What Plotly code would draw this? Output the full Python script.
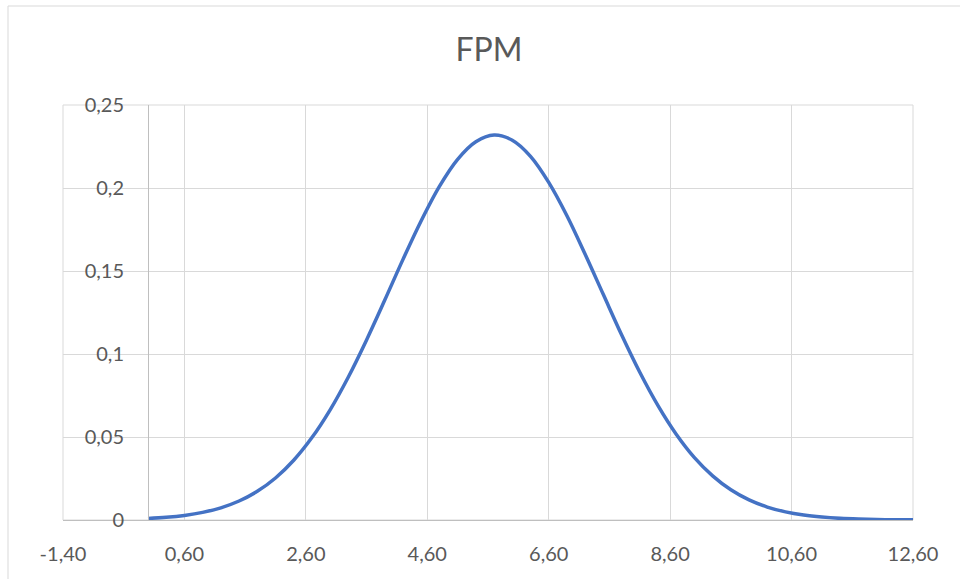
import plotly.graph_objects as go

# Data (normal-shaped density curve)
x_values = [0.0, 0.3, 0.6, 0.9, 1.2, 1.5, 1.8, 2.1, 2.4, 2.7, 3.0, 3.3, 3.6, 3.9,
            4.2, 4.5, 4.8, 5.1, 5.4, 5.7, 6.0, 6.3, 6.6, 6.9, 7.2, 7.5, 7.8, 8.1,
            8.4, 8.7, 9.0, 9.3, 9.6, 9.9, 10.2, 10.5, 10.8, 11.1, 11.4, 11.7,
            12.0, 12.3, 12.6]
y_values = [0.00092, 0.00162, 0.00276, 0.00457, 0.00734, 0.01143, 0.01728, 0.02532,
            0.0360, 0.04965, 0.0664, 0.08618, 0.1085, 0.1325, 0.1570, 0.1803,
            0.2010, 0.2173, 0.2279, 0.2319, 0.2288, 0.2191, 0.2034, 0.1833, 0.1601,
            0.1358, 0.1116, 0.0890, 0.0689, 0.0517, 0.0376, 0.0266, 0.0182, 0.0121,
            0.0078, 0.00488, 0.00296, 0.00174, 0.00099, 0.00055, 0.00030, 0.00015,
            0.00008]

x_tick_vals = [-1.4, 0.6, 2.6, 4.6, 6.6, 8.6, 10.6, 12.6]
x_tick_text = ["-1,40", "0,60", "2,60", "4,60", "6,60", "8,60", "10,60", "12,60"]
y_tick_vals = [0, 0.05, 0.1, 0.15, 0.2, 0.25]
y_tick_text = ["0", "0,05", "0,1", "0,15", "0,2", "0,25"]

title_text = "FPM"

FONT = "Lato"
TXT = "#595959"
GRID = "#d9d9d9"
AXIS = "#bfbfbf"

fig = go.Figure()
fig.add_trace(go.Scatter(
    x=x_values, y=y_values, mode="lines",
    line=dict(color="#4472C4", width=3.5, shape="spline", smoothing=1.0),
    hoverinfo="x+y", showlegend=False,
))

fig.update_layout(
    width=960, height=579,
    margin=dict(l=63, r=47, t=105, b=59),
    paper_bgcolor="white", plot_bgcolor="white",
    title=dict(text=title_text, x=489 / 960, xanchor="center",
               y=1 - 50 / 579, yanchor="middle",
               font=dict(family=FONT, size=32, color=TXT)),
    font=dict(family=FONT, color=TXT, size=20),
    xaxis=dict(range=[-1.4, 12.6], tickvals=x_tick_vals, ticktext=x_tick_text,
               showgrid=True, gridcolor=GRID, gridwidth=1,
               zeroline=False, showline=True, linecolor=AXIS, linewidth=1,
               ticks="", ticklabelstandoff=16,
               tickfont=dict(family=FONT, size=20, color=TXT)),
    yaxis=dict(range=[0, 0.25], tickvals=y_tick_vals, ticktext=y_tick_text,
               showgrid=True, gridcolor=GRID, gridwidth=1,
               zeroline=False, showline=True, linecolor=AXIS, linewidth=1,
               anchor="free", position=(148 - 63) / 850,
               ticks="", ticklabelstandoff=20,
               tickfont=dict(family=FONT, size=20, color=TXT)),
    shapes=[
        # plot-area edge gridlines (-1,40 / 12,60 / 0,25)
        dict(type="rect", xref="paper", yref="paper", x0=0, x1=1, y0=0, y1=1,
             line=dict(color=GRID, width=1), layer="below"),
        # chart-area border
        dict(type="line", xref="paper", yref="paper",
             x0=(8 - 63) / 850, x1=(8 - 63) / 850,
             y0=(520 - 6) / 415, y1=(520 - 600) / 415,
             line=dict(color=GRID, width=1)),
        dict(type="line", xref="paper", yref="paper",
             x0=(8 - 63) / 850, x1=(1000 - 63) / 850,
             y0=(520 - 6) / 415, y1=(520 - 6) / 415,
             line=dict(color=GRID, width=1)),
    ],
)

fig.write_html("out.html")
